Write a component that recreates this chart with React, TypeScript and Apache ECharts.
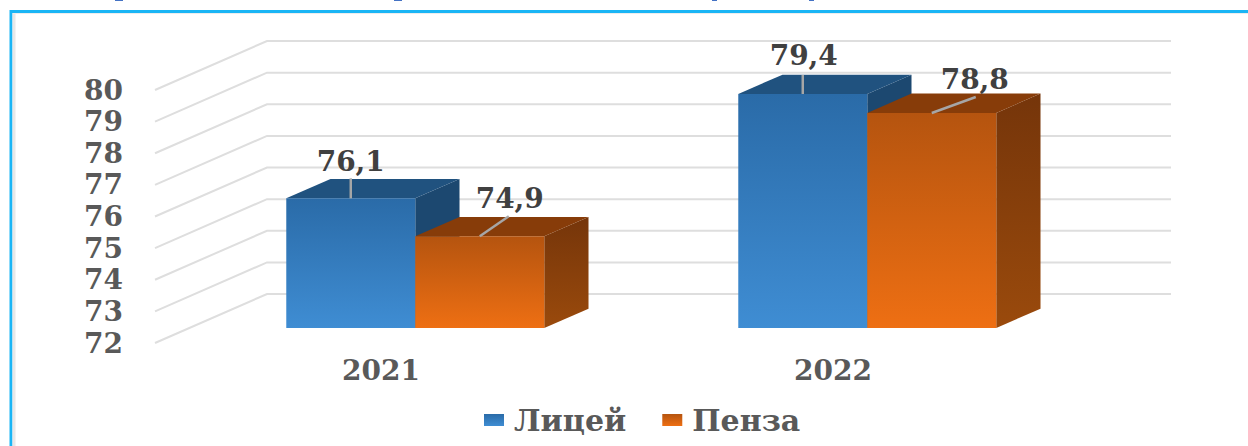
import React, { useEffect, useRef } from "react";
import * as echarts from "echarts";

const categories = ["2021", "2022"];
const seriesNames = ["Лицей", "Пенза"];
const liceyValues = [76.1, 79.4];
const penzaValues = [74.9, 78.8];
const yTicks = [72, 73, 74, 75, 76, 77, 78, 79, 80];

// Pixel offsets of the value labels, from the centre of each bar's top front edge.
const liceyLabelOffsets = [[0, -37], [1, -38]];
const penzaLabelOffsets = [[30, -38], [43, -33]];
const liceyLeaderEnds = [[0, -20], [0, -19]];
const penzaLeaderEnds = [[29, -20], [44, -16]];
// Clipped glyph remnants along the very top edge of the picture: [x, width].
const topFragments = [[115, 8], [394, 8], [712, 5], [809, 5]];

const WALL_DX = 112;
const WALL_DY = 49;
const BAR_NEAR = 0.306;
const BAR_DEPTH = 0.395;
const BAR_WIDTH = 129;

const SERIF = "'DejaVu Serif', serif";

function vGrad(a: string, b: string) {
  return new echarts.graphic.LinearGradient(0, 0, 0, 1, [
    { offset: 0, color: a },
    { offset: 1, color: b },
  ]);
}

function wallRender(params: any, api: any) {
  const v = api.value(0);
  const y = api.coord([0, v])[1];
  const x0 = params.coordSys.x;
  const x1 = x0 + params.coordSys.width;
  return {
    type: "polyline",
    silent: true,
    shape: {
      points: [
        [x0, y],
        [x0 + WALL_DX, y - WALL_DY],
        [x1 + WALL_DX, y - WALL_DY],
      ],
    },
    style: { fill: "none", stroke: "#DEDEDE", lineWidth: 2 },
  };
}

function barRender(
  groupShift: number,
  front: any,
  top: string,
  side: any,
  labelOffsets: number[][],
  leaderEnds: number[][],
) {
  return (params: any, api: any) => {
    const idx = api.value(0);
    const val = api.value(1);
    const c = api.coord([idx, val]);
    const base = api.coord([idx, yTicks[0]]);
    const nearDx = WALL_DX * BAR_NEAR;
    const nearDy = WALL_DY * BAR_NEAR;
    const dx = WALL_DX * BAR_DEPTH;
    const dy = WALL_DY * BAR_DEPTH;
    const xL = c[0] + nearDx + groupShift;
    const xR = xL + BAR_WIDTH;
    const yT = c[1] - nearDy;
    const yB = base[1] - nearDy;
    const cx = xL + BAR_WIDTH / 2;
    const off = labelOffsets[params.dataIndex];
    const end = leaderEnds[params.dataIndex];
    const text = val.toFixed(1).replace(".", ",");
    return {
      type: "group",
      children: [
        {
          type: "polygon",
          shape: { points: [[xR, yT], [xR + dx, yT - dy], [xR + dx, yB - dy], [xR, yB]] },
          style: { fill: side },
        },
        {
          type: "polygon",
          shape: { points: [[xL, yT], [xL + dx, yT - dy], [xR + dx, yT - dy], [xR, yT]] },
          style: { fill: top },
        },
        {
          type: "rect",
          shape: { x: xL, y: yT, width: BAR_WIDTH, height: yB - yT },
          style: { fill: front },
        },
        {
          type: "line",
          shape: { x1: cx, y1: yT, x2: cx + end[0], y2: yT + end[1] },
          style: { stroke: "#A6A6A6", lineWidth: 2.5 },
        },
        {
          type: "text",
          z2: 10,
          style: {
            x: cx + off[0],
            y: yT + off[1],
            text,
            align: "center",
            verticalAlign: "middle",
            font: `bold 28px ${SERIF}`,
            fill: "#404040",
          },
        },
      ],
    };
  };
}

export default function App() {
  const ref = useRef<HTMLDivElement>(null);
  useEffect(() => {
    const chart = echarts.init(ref.current!, undefined, { renderer: "svg" });
    const blueFront = vGrad("#2A6BA8", "#3F8DD3");
    const orangeFront = vGrad("#B5540F", "#EE6F13");
    chart.setOption({
      animation: false,
      backgroundColor: "#FFFFFF",
      grid: { left: 155, right: 189, top: 90, bottom: 103, containLabel: false },
      xAxis: {
        type: "category",
        data: categories,
        axisLine: { show: false },
        axisTick: { show: false },
        splitLine: { show: false },
        axisLabel: {
          color: "#595959",
          fontFamily: SERIF,
          fontWeight: "bold",
          fontSize: 28,
          margin: 13,
        },
      },
      yAxis: {
        type: "value",
        min: 72,
        max: 80,
        interval: 1,
        axisLine: { show: false },
        axisTick: { show: false },
        splitLine: { show: false },
        axisLabel: {
          color: "#595959",
          fontFamily: SERIF,
          fontWeight: "bold",
          fontSize: 28,
          margin: 32,
        },
      },
      legend: {
        left: 479,
        top: 400,
        itemWidth: 20,
        itemHeight: 12,
        itemGap: 36,
        icon: "rect",
        data: seriesNames,
        textStyle: {
          color: "#595959",
          fontFamily: SERIF,
          fontWeight: "bold",
          fontSize: 30,
          padding: [0, 0, 0, 5],
        },
      },
      graphic: [
        {
          type: "polyline",
          silent: true,
          z: -1,
          shape: { points: [[11, 446], [11, 11.5], [1248, 11.5]] },
          style: { fill: "none", stroke: "#1AB5F5", lineWidth: 3 },
        },
        {
          type: "line",
          silent: true,
          z: -1,
          shape: { x1: 14, y1: 13, x2: 14, y2: 446 },
          style: { stroke: "#E8E8E8", lineWidth: 3 },
        },
        {
          type: "line",
          silent: true,
          z: -1,
          shape: { x1: 13, y1: 13.5, x2: 1248, y2: 13.5 },
          style: { stroke: "#EDEDED", lineWidth: 1 },
        },
        ...topFragments.map(([x, width]) => ({
          type: "rect",
          silent: true,
          shape: { x, y: 0, width, height: 1 },
          style: { fill: "#4472C4" },
        })),
      ],
      series: [
        {
          name: "wall",
          type: "custom",
          silent: true,
          z: 1,
          clip: false,
          data: yTicks.map((v) => [v]),
          encode: { y: 0 },
          renderItem: wallRender,
        },
        {
          name: seriesNames[0],
          type: "custom",
          z: 2,
          clip: false,
          itemStyle: { color: blueFront },
          data: liceyValues.map((v, i) => [i, v]),
          encode: { x: 0, y: 1 },
          renderItem: barRender(-BAR_WIDTH, blueFront, "#20527F", "#1C4870", liceyLabelOffsets, liceyLeaderEnds),
        },
        {
          name: seriesNames[1],
          type: "custom",
          z: 3,
          clip: false,
          itemStyle: { color: orangeFront },
          data: penzaValues.map((v, i) => [i, v]),
          encode: { x: 0, y: 1 },
          renderItem: barRender(0, orangeFront, "#873C09", vGrad("#75350A", "#9A4A0C"), penzaLabelOffsets, penzaLeaderEnds),
        },
      ],
    });
    return () => chart.dispose();
  }, []);
  return (
    <div
      ref={ref}
      style={{ position: "absolute", left: 0, top: 0, width: 1248, height: 446 }}
    />
  );
}
